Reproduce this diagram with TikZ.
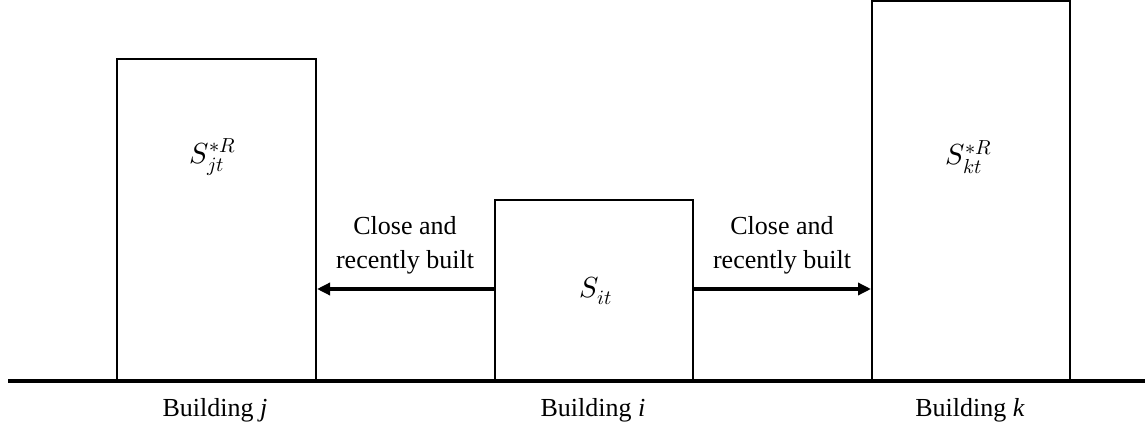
\documentclass[tikz,border=0pt]{standalone}
\usepackage{fontspec}
\usepackage{unicode-math}
\setmainfont{Liberation Serif}
\setmathfont{Latin Modern Math}
\usetikzlibrary{arrows.meta}
\begin{document}
\begin{tikzpicture}[x=1pt,y=-1pt,
  bldg/.style={draw=black,line width=2pt,fill=white},
  lbl/.style={font=\fontsize{26}{34}\selectfont,align=center,inner sep=0pt},
  mlbl/.style={font=\fontsize{29}{32}\selectfont,inner sep=0pt},
  conn/.style={line width=4pt,-{Triangle[length=13pt,width=12pt]}}]
\useasboundingbox (0,0) rectangle (1145,430);
\draw[line width=4pt] (8,381) -- (1145,381);
\node[bldg,minimum width=199pt,minimum height=321pt,anchor=south west,inner sep=0pt] (bj) at (116,381) {};
\node[bldg,minimum width=198pt,minimum height=180pt,anchor=south west,inner sep=0pt] (bi) at (494,381) {};
\node[bldg,minimum width=198pt,minimum height=379pt,anchor=south west,inner sep=0pt] (bk) at (871,381) {};
\node[mlbl] (sj) at (213,157) {$S_{jt}^{*R}$};
\node[mlbl] (si) at (596,291) {$S_{it}$};
\node[mlbl] (sk) at (969,157) {$S_{kt}^{*R}$};
\draw[conn] (bi.west |- 0,289) -- (bj.east |- 0,289);
\draw[conn] (bi.east |- 0,289) -- (bk.west |- 0,289);
\node[lbl] (cl) at (405,245) {Close and\\recently built};
\node[lbl] (cr) at (782,245) {Close and\\recently built};
\node[lbl] (lj) at (215,410) {Building \textit{j}};
\node[lbl] (li) at (593,410) {Building \textit{i}};
\node[lbl] (lk) at (970,410) {Building \textit{k}};
\end{tikzpicture}
\end{document}
